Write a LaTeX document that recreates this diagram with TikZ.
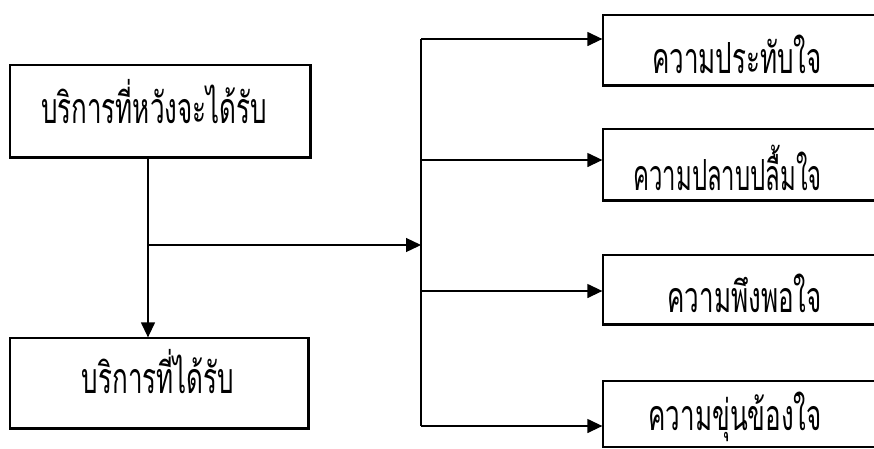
\documentclass[tikz,border=0pt]{standalone}
\usepackage{fontspec}
\newfontfamily\thaifont[Script=Thai]{Loma}
\usetikzlibrary{arrows.meta}
\newcommand{\tallthai}[2][1]{\scalebox{#1}[1.65]{#2}}
\begin{document}
\begin{tikzpicture}[x=1pt,y=-1pt,
  box/.style={draw=black,line width=1.3pt,rectangle,inner sep=0pt},
  lbl/.style={font=\thaifont\fontsize{26}{28}\selectfont,inner sep=0pt},
  ln/.style={line width=1.3pt},
  edge/.style={line width=2.6pt},
  arr/.style={line width=1.3pt,-{Triangle[length=15pt,width=14pt]}}]
\clip (0,0) rectangle (874,448);
\fill[white] (0,0) rectangle (874,448);
% left boxes
\node[box,minimum width=300pt,minimum height=92pt] (L1) at (160,111) {};
\node[box,minimum width=298pt,minimum height=90pt] (L2) at (159,383) {};
\draw[edge] (L1.south west) -- (L1.south east) -- (L1.north east);
\draw[edge] (L2.south west) -- (L2.south east) -- (L2.north east);
\node[lbl] (tL1) at (154,102) {\tallthai{บริการที่หวังจะได้รับ}};
\node[lbl] (tL2) at (158,372) {\tallthai{บริการที่ได้รับ}};
% right boxes
\node[box,minimum width=297pt,minimum height=70pt] (R1) at (751.5,50) {};
\node[box,minimum width=297pt,minimum height=71pt] (R2) at (751.5,164.5) {};
\node[box,minimum width=297pt,minimum height=69pt] (R3) at (751.5,289.5) {};
\node[box,minimum width=297pt,minimum height=66pt] (R4) at (751.5,414) {};
\draw[edge] (R1.south west) -- (R1.south east);
\draw[edge] (R2.south west) -- (R2.south east);
\draw[edge] (R3.south west) -- (R3.south east);
\node[lbl,anchor=east] (tR1) at (822,54) {\tallthai{ความประทับใจ}};
\node[lbl,anchor=east] (tR2) at (822,168) {\tallthai[0.92]{ความปลาบปลื้มใจ}};
\node[lbl,anchor=east] (tR3) at (822,293) {\tallthai{ความพึงพอใจ}};
\node[lbl,anchor=east] (tR4) at (822,417) {\tallthai{ความขุ่นข้องใจ}};
% connectors
\coordinate (v1) at (148,157);
\coordinate (j) at (148,245);
\coordinate (bt) at (421,39);
\coordinate (bb) at (421,426);
\coordinate (b2) at (421,160);
\coordinate (b3) at (421,291);
\coordinate (bj) at (421,245);
\draw[arr] (v1) -- (v1 |- L2.north);
\draw[arr] (j) -- (bj);
\draw[ln] (bt) -- (bb);
\draw[arr] (bt) -- (bt -| R1.west);
\draw[arr] (b2) -- (b2 -| R2.west);
\draw[arr] (b3) -- (b3 -| R3.west);
\draw[arr] (bb) -- (bb -| R4.west);
\end{tikzpicture}
\end{document}
